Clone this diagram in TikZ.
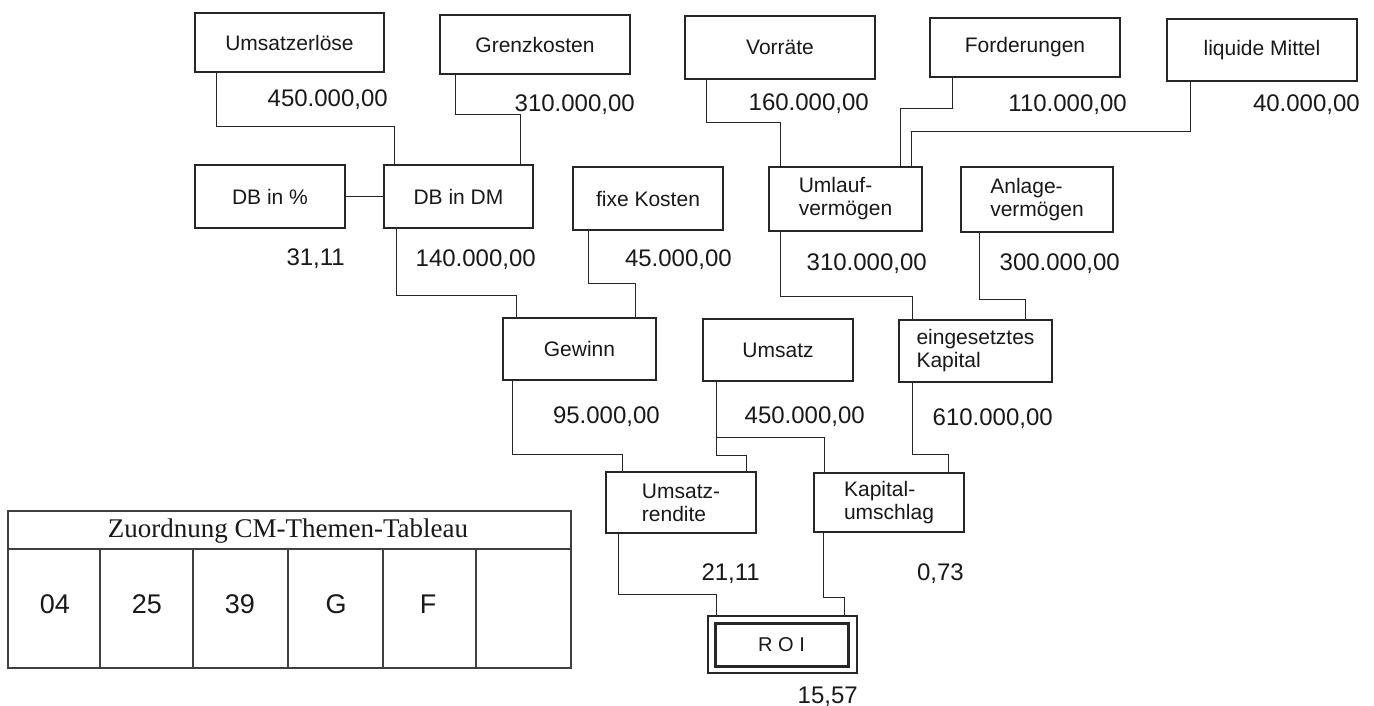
\documentclass[tikz,border=0pt]{standalone}
\usepackage{fontspec}
\setmainfont{Liberation Sans}
\newfontfamily\tabserif{Liberation Serif}
\begin{document}
\begin{tikzpicture}[x=1pt,y=-1pt,
  box/.style={draw=black!85, line width=1.6pt, inner sep=0pt, text=black!90,
    font=\fontsize{21}{23}\selectfont, align=center},
  twoline/.style={box, align=left},
  num/.style={anchor=base east, inner sep=0pt, text=black!90, font=\fontsize{24}{26}\selectfont},
  conn/.style={draw=black!85, line width=1.3pt},
  tabline/.style={draw=black!75, line width=1.5pt},
  cell/.style={inner sep=0pt, text=black!90, font=\fontsize{27}{29}\selectfont}]
\useasboundingbox[fill=white] (0,0) rectangle (1374,706);

% boxes, top row
\node[box, minimum width=189pt, minimum height=59pt] (ue) at (289.5,42.5) {Umsatzerlöse};
\node[box, minimum width=190pt, minimum height=59pt] (gk) at (535,44.5) {Grenzkosten};
\node[box, minimum width=190pt, minimum height=63pt] (vor) at (780,47.5) {Vorräte};
\node[box, minimum width=190pt, minimum height=59pt] (ford) at (1025,47.5) {Forderungen};
\node[box, minimum width=190pt, minimum height=62pt] (liq) at (1262,50) {liquide Mittel};

% second row
\node[box, minimum width=150pt, minimum height=63pt] (dbp) at (270,196.5) {DB in \%};
\node[box, minimum width=149pt, minimum height=63pt] (dbdm) at (458.5,196.5) {DB in DM};
\node[box, minimum width=150pt, minimum height=63pt] (fk) at (648,198.5) {fixe Kosten};
\node[twoline, minimum width=153pt, minimum height=64pt] (uv) at (845.5,199) {Umlauf-\\vermögen};
\node[twoline, minimum width=152pt, minimum height=65pt] (av) at (1037,199.5) {Anlage-\\vermögen};

% third row
\node[box, minimum width=153pt, minimum height=62pt] (gew) at (579.5,349) {Gewinn};
\node[box, minimum width=150pt, minimum height=62pt] (ums) at (778,350) {Umsatz};
\node[twoline, minimum width=153pt, minimum height=62pt] (ek) at (975.5,351) {eingesetztes\\Kapital};

% fourth row
\node[twoline, minimum width=150pt, minimum height=61pt] (ur) at (681,502.5) {Umsatz-\\rendite};
\node[twoline, minimum width=150pt, minimum height=59pt] (ku) at (889,502.5) {Kapital-\\umschlag};

% ROI
\node[box, minimum width=149pt, minimum height=57pt, line width=2.4pt] (roi) at (782.5,644.5) {};
\node[box, minimum width=133pt, minimum height=43pt, line width=3pt,
  font=\fontsize{20}{22}\selectfont] (roiin) at (781.5,644.5) {R O I};

% values
\node[num] (v1) at (388,106.6) {450.000,00};
\node[num] (v2) at (635,111.6) {310.000,00};
\node[num] (v3) at (869,110.6) {160.000,00};
\node[num] (v4) at (1127,111.6) {110.000,00};
\node[num] (v5) at (1360,111.6) {40.000,00};
\node[num] (v6) at (345,265.6) {31,11};
\node[num] (v7) at (536,266.6) {140.000,00};
\node[num] (v8) at (732,266.6) {45.000,00};
\node[num] (v9) at (927,270.6) {310.000,00};
\node[num] (v10) at (1120,270.6) {300.000,00};
\node[num] (v11) at (660,423.6) {95.000,00};
\node[num] (v12) at (865,423.6) {450.000,00};
\node[num] (v13) at (1053,425.6) {610.000,00};
\node[num] (v14) at (760,580.6) {21,11};
\node[num] (v15) at (964,580.6) {0,73};
\node[num] (v16) at (858,703.6) {15,57};

% connectors
\draw[conn] ([xshift=22pt]ue.south west) -- ++(0,54) -| ([xshift=11pt]dbdm.north west);
\draw[conn] ([xshift=16pt]gk.south west) -- ++(0,40) -| ([xshift=-13pt]dbdm.north east);
\draw[conn] (dbp.east) -- (dbdm.west);
\draw[conn] ([xshift=13pt]dbdm.south west) -- ++(0,67) -| ([xshift=14pt]gew.north west);
\draw[conn] ([xshift=16pt]fk.south west) -- ++(0,53) -| ([xshift=-21pt]gew.north east);
\draw[conn] ([xshift=22pt]vor.south west) -- ++(0,43) -| ([xshift=12pt]uv.north west);
\draw[conn] ([xshift=23pt]ford.south west) -- ++(0,31) -| ([xshift=-22pt]uv.north east);
\draw[conn] ([xshift=24pt]liq.south west) -- ++(0,50) -| ([xshift=-11pt]uv.north east);
\draw[conn] ([xshift=12pt]uv.south west) -- ++(0,65) -| ([xshift=14pt]ek.north west);
\draw[conn] ([xshift=19pt]av.south west) -- ++(0,67) -| ([xshift=-27pt]ek.north east);
\draw[conn] ([xshift=10pt]gew.south west) -- ++(0,74) -| ([xshift=17pt]ur.north west);
\draw[conn] ([xshift=14pt]ums.south west) -- ++(0,74) -| ([xshift=-10pt]ur.north east);
\draw[conn] ([xshift=14pt]ums.south west) -- ++(0,56) -| ([xshift=11pt]ku.north west);
\draw[conn] ([xshift=14pt]ek.south west) -- ++(0,72) -| ([xshift=-16pt]ku.north east);
\draw[conn] ([xshift=13pt]ur.south west) -- ++(0,61) -| ([xshift=10pt]roi.north west);
\draw[conn] ([xshift=10pt]ku.south west) -- ++(0,65) -| ([xshift=-14pt]roi.north east);

% table
\draw[tabline] (8,511) rectangle (571,668);
\draw[tabline] (8,549) -- (571,549);
\foreach \cx in {100,193,288,383,476} \draw[tabline] (\cx,549) -- (\cx,668);
\node[inner sep=0pt, text=black!90, font=\tabserif\fontsize{27}{29}\selectfont] (thead) at (288,531) {Zuordnung CM-Themen-Tableau};
\node[cell] (c1) at (55,604) {04};
\node[cell] (c2) at (147,604) {25};
\node[cell] (c3) at (240,604) {39};
\node[cell] (c4) at (336,604) {G};
\node[cell] (c5) at (428,604) {F};
\end{tikzpicture}
\end{document}
